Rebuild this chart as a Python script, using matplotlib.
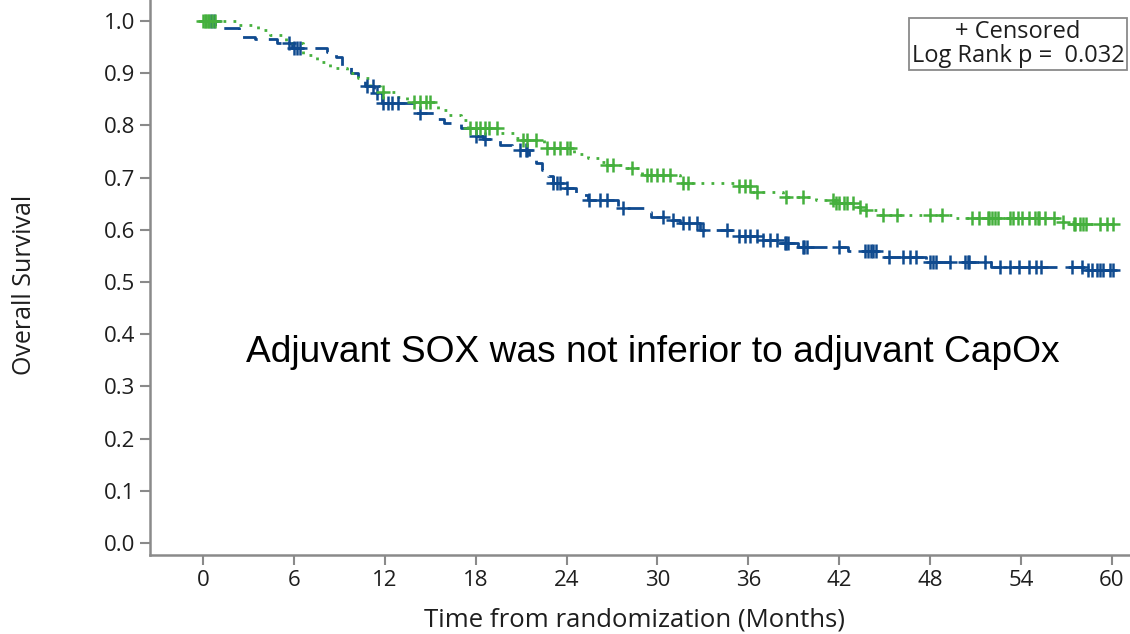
import numpy as np
import matplotlib
matplotlib.use("Agg")
import matplotlib.pyplot as plt

# ---- data ----
blue_t = [0, 0.8, 2.4, 3.4, 4.9, 5.9, 8.2, 8.8, 9.2, 9.8, 10.2, 10.7, 11.3, 11.8,
          14.0, 15.3, 15.9, 17.0, 17.8, 18.5, 19.6, 20.4, 21.5, 22.0, 22.4, 22.8, 23.1,
          23.8, 24.6, 25.4, 27.4, 29.1, 29.6, 30.9, 31.5, 32.8, 35.2, 36.8, 38.3,
          39.3, 42.6, 44.5, 47.7, 52.0, 58.3, 60.5]
blue_s = [1.0, 0.987, 0.970, 0.965, 0.958, 0.948, 0.940, 0.930, 0.912, 0.900, 0.890, 0.875, 0.862, 0.843,
          0.824, 0.812, 0.805, 0.795, 0.780, 0.774, 0.762, 0.753, 0.740, 0.728, 0.715, 0.703, 0.690,
          0.680, 0.667, 0.657, 0.642, 0.634, 0.625, 0.619, 0.613, 0.600, 0.588, 0.580, 0.575,
          0.567, 0.560, 0.548, 0.538, 0.529, 0.523, 0.523]
blue_cens = [0.5, 0.7, 5.7, 6.0, 6.2, 6.4, 10.8, 11.2, 11.5, 11.9, 12.2, 12.5, 12.9, 14.3,
             18.0, 18.6, 20.9, 21.3, 21.4, 23.1, 23.4, 23.6, 24.0, 25.5, 26.2, 26.7, 27.7,
             30.4, 31.0, 31.7, 32.1, 32.6, 33.0, 34.6, 35.4, 35.8, 36.1, 36.6, 37.0, 37.4,
             37.9, 38.4, 38.5, 38.6, 39.6, 39.7, 39.9, 42.0, 43.7, 43.9, 44.1, 44.2, 44.4,
             45.3, 46.2, 46.7, 47.1, 48.0, 48.2, 48.4, 49.3, 50.3, 50.5, 50.6, 51.6, 52.6,
             53.3, 53.9, 54.5, 55.0, 55.3, 57.4, 58.0, 58.4, 58.7, 59.0, 59.2, 59.4, 59.9,
             60.1]

green_t = [0, 2.3, 3.6, 4.4, 5.5, 6.6, 7.5, 8.4, 9.5, 10.2, 11.0, 11.7, 12.8, 13.5,
           15.5, 16.2, 17.0, 17.5, 19.6, 20.5, 21.0, 22.5, 24.5, 25.4, 26.2, 26.6,
           28.0, 29.0, 31.5, 35.2, 36.2, 38.3, 40.5, 41.8, 43.0, 43.6, 44.5, 49.5,
           56.8, 57.5, 60.5]
green_s = [1.0, 0.992, 0.983, 0.973, 0.957, 0.935, 0.922, 0.909, 0.900, 0.890, 0.875, 0.864, 0.855, 0.845,
           0.830, 0.820, 0.810, 0.795, 0.785, 0.776, 0.772, 0.757, 0.745, 0.737, 0.730, 0.724,
           0.718, 0.705, 0.690, 0.684, 0.672, 0.663, 0.657, 0.651, 0.644, 0.638, 0.628, 0.623,
           0.615, 0.611, 0.611]
green_cens = [0.0, 0.1, 0.2, 0.3, 0.4, 0.6, 0.8, 11.9, 13.9, 14.3, 14.7, 15.0,
              17.6, 18.0, 18.3, 18.6, 18.9, 19.4, 21.1, 21.4, 22.0, 22.7, 23.2, 23.6, 24.0, 24.2,
              26.7, 27.1, 28.3, 29.3, 29.6, 30.0, 30.4, 30.8, 31.7, 32.0, 35.4, 35.8, 36.1,
              36.6, 38.5, 39.6, 41.6, 41.8, 42.0, 42.3, 42.5, 42.9, 43.4, 43.8, 44.9, 45.8,
              48.0, 48.8, 50.8, 51.2, 51.8, 51.9, 52.1, 52.3, 52.5, 53.3, 53.5, 53.8, 54.1,
              54.5, 54.9, 55.1, 55.2, 55.6, 56.2, 56.8, 57.5, 57.6, 57.9, 58.1, 58.3, 59.2,
              59.7, 60.1]

xticks = [0, 6, 12, 18, 24, 30, 36, 42, 48, 54, 60]
yticks = [0.0, 0.1, 0.2, 0.3, 0.4, 0.5, 0.6, 0.7, 0.8, 0.9, 1.0]

BLUE = "#0f4a8f"
GREEN = "#45b03d"
AXC = "#8a8a8a"
TXT = "#1e1e1e"

plt.rcParams['font.family'] = ['Open Sans', 'DejaVu Sans']

fig = plt.figure(figsize=(11.3, 6.34), dpi=100)
ax = fig.add_axes([150 / 1130, (634 - 555) / 634, 980 / 1130, 555 / 634])


def step_val(ts, ss, t):
    i = np.searchsorted(ts, t, side='right') - 1
    return ss[max(i, 0)]


ax.plot(blue_t, blue_s, drawstyle='steps-post', color=BLUE, lw=2.0,
        linestyle=(0, (6, 4)), zorder=3)
ax.plot(green_t, green_s, drawstyle='steps-post', color=GREEN, lw=2.0,
        linestyle=(0, (1, 2.6)), zorder=3)

ax.plot(blue_cens, [step_val(blue_t, blue_s, t) for t in blue_cens], ls='none',
        marker='+', ms=10, mew=1.8, color=BLUE, zorder=4)
ax.plot(green_cens, [step_val(green_t, green_s, t) for t in green_cens], ls='none',
        marker='+', ms=10, mew=1.8, color=GREEN, zorder=4)

ax.set_xlim(-3.5, 61.2)
ax.set_ylim(-0.023, 1.040)
ax.set_xticks(xticks)
ax.set_yticks(yticks)
ax.set_xticklabels([str(v) for v in xticks])
ax.set_yticklabels([f"{v:.1f}" for v in yticks])
ax.tick_params(axis='both', colors=AXC, labelcolor=TXT, labelsize=16,
               length=7, width=1.5, direction='out')

for s in ['top', 'right']:
    ax.spines[s].set_visible(False)
for s in ['left', 'bottom']:
    ax.spines[s].set_color(AXC)
    ax.spines[s].set_linewidth(1.8)

ax.set_xlabel("Time from randomization (Months)", fontsize=18.5, color=TXT)
ax.set_ylabel("Overall Survival", fontsize=18, color=TXT)
ax.xaxis.set_label_coords((634 - 150) / 980, (555 - 620) / 555)
ax.yaxis.set_label_coords((25 - 150) / 980, (555 - 285) / 555)
ax.xaxis.label.set_va('center')
ax.yaxis.label.set_va('center')

fig.text(653 / 1130, 1 - 352 / 634, "Adjuvant SOX was not inferior to adjuvant CapOx",
         fontsize=26.7, family=['Liberation Sans', 'DejaVu Sans'], ha='center', va='center',
         color='black')

fig.text(1018 / 1130, 1 - 44 / 634, "+ Censored\nLog Rank p =  0.032", fontsize=17,
         ha='center', va='center', color=TXT, linespacing=0.95,
         bbox=dict(boxstyle='square,pad=0.12', fc='white', ec=AXC, lw=1.3))

fig.savefig("out.png", dpi=100)
